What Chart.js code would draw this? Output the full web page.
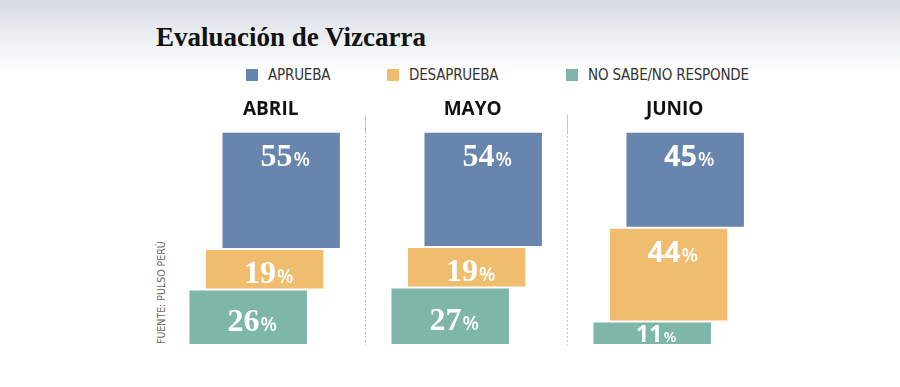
<!DOCTYPE html>
<html lang="es">
<head>
  <meta charset="utf-8">
  <title>Evaluación de Vizcarra</title>
  <script src="https://cdn.jsdelivr.net/npm/chart.js@4/dist/chart.umd.min.js"></script>
  <style>
  html, body {
    margin: 0;
    padding: 0;
  }
  body {
    width: 900px;
    height: 387px;
    position: relative;
    overflow: hidden;
    background: linear-gradient(to bottom, #d6dbe3 0px, #eef0f3 40px, #ffffff 74px);
  }
  #title {
    position: absolute;
    left: 156px;
    top: 22px;
    font: bold 27px "Liberation Serif", serif;
    color: #111;
    white-space: nowrap;
  }
  .key {
    position: absolute;
    top: 65px;
    font: 15px "Liberation Sans Narrow", "DejaVu Sans Condensed", sans-serif;
    letter-spacing: -0.2px;
    color: #333;
    line-height: 20px;
    white-space: nowrap;
  }
  .key i {
    display: inline-block;
    width: 12px;
    height: 12px;
    margin-right: 10px;
    vertical-align: -1px;
  }
  #source {
    position: absolute;
    left: 155px;
    top: 344px;
    transform: rotate(-90deg);
    transform-origin: 0 0;
    font: 10.5px "Liberation Sans Narrow", "DejaVu Sans Condensed", sans-serif;
    line-height: 13px;
    color: #666;
    white-space: nowrap;
  }
  canvas {
    position: absolute;
    left: 0;
    top: 0;
  }
  </style>
</head>

<body>
  <div id="title">Evaluación de Vizcarra</div>
  <div class="key" style="left:246px"><i style="background:#6886ad"></i>APRUEBA</div>
  <div class="key" style="left:387px"><i style="background:#f0bd6e"></i>DESAPRUEBA</div>
  <div class="key" style="left:566px"><i style="background:#7fb6aa"></i>NO SABE/NO RESPONDE</div>
  <div id="source">FUENTE: PULSO PERÚ</div>
  <canvas id="chart" width="900" height="387"></canvas>
  <script>
    // values (percent)
    var months = ['ABRIL', 'MAYO', 'JUNIO'];
    var aprueba = [55, 54, 45];
    var desaprueba = [19, 19, 44];
    var noSabe = [26, 27, 11];

    var colAprueba = '#6886ad';
    var colDesaprueba = '#f0bd6e';
    var colNoSabe = '#7fb6aa';

    // the boxes sit on top of each other, so each one floats on the sum below it
    var noSabeRange = noSabe.map(function (v) { return [0, v]; });
    var desapruebaRange = noSabe.map(function (v, i) { return [v, v + desaprueba[i]]; });
    var apruebaRange = noSabe.map(function (v, i) {
      var lo = v + desaprueba[i];
      return [lo, lo + aprueba[i]];
    });

    // number fonts differ a bit between panels in the original
    var numberFamily = ['"Liberation Serif"', '"Liberation Serif"', '"Open Sans"'];
    var numberSize = [32, 32, 29];

    var barLabels = {
      id: 'barLabels',
      afterDatasetsDraw: function (chart) {
        var ctx = chart.ctx;
        chart.data.datasets.forEach(function (ds, di) {
          chart.getDatasetMeta(di).data.forEach(function (bar, i) {
            var p = bar.getProps(['x', 'y', 'base'], true);
            var top = Math.min(p.y, p.base);
            var bottom = Math.max(p.y, p.base);
            var h = bottom - top;
            var k = h < 30 ? 0.78 : 1;
            var cy;
            if (h > 80) cy = top + 24;
            else if (h < 30) cy = (top + bottom) / 2 + 1;
            else cy = (top + bottom) / 2 + 3;
            var base = cy + 10.5 * k;
            var num = String(ds.values[i]);
            var fNum = 'bold ' + Math.round(numberSize[i] * k) + 'px ' + numberFamily[i];
            var fPct = '600 ' + Math.round(19 * k) + 'px "Open Sans"';

            ctx.save();
            ctx.fillStyle = '#ffffff';
            ctx.textBaseline = 'alphabetic';
            ctx.textAlign = 'left';
            ctx.font = fNum;
            var wNum = ctx.measureText(num).width;
            ctx.font = fPct;
            var wPct = ctx.measureText('%').width;
            var x0 = p.x + 4 - (wNum + 1 + wPct) / 2;
            ctx.font = fNum;
            ctx.fillText(num, x0, base);
            ctx.font = fPct;
            ctx.fillText('%', x0 + wNum + 1, base);
            ctx.restore();
          });
        });
      }
    };

    var barStyle = {
      borderWidth: 1,
      borderColor: '#ffffff',
      borderSkipped: false,
      categoryPercentage: 0.245,
      barPercentage: 7.24
    };

    var config = {
      type: 'bar',
      data: {
        labels: months,
        datasets: [
          Object.assign({ label: 'NO SABE/NO RESPONDE', data: noSabeRange, values: noSabe, backgroundColor: colNoSabe }, barStyle),
          Object.assign({ label: 'DESAPRUEBA', data: desapruebaRange, values: desaprueba, backgroundColor: colDesaprueba }, barStyle),
          Object.assign({ label: 'APRUEBA', data: apruebaRange, values: aprueba, backgroundColor: colAprueba }, barStyle)
        ]
      },
      options: {
        responsive: false,
        animation: false,
        devicePixelRatio: 1,
        layout: {
          padding: { left: 163.7, right: 130.3, top: 85.7, bottom: 42 }
        },
        plugins: {
          legend: { display: false },
          tooltip: { enabled: false }
        },
        scales: {
          x: {
            type: 'category',
            position: 'top',
            offset: true,
            grid: {
              offset: true,
              drawTicks: true,
              tickLength: 17,
              lineWidth: 1,
              color: function (c) {
                return (c.index === 1 || c.index === 2) ? '#c4c4c4' : 'rgba(0,0,0,0)';
              }
            },
            border: { display: false, dash: [2, 2] },
            ticks: {
              padding: 5,
              crossAlign: 'center',
              labelOffset: 6,
              color: '#111',
              font: { family: 'Open Sans', weight: 'bold', size: 19, lineHeight: 1 }
            }
          },
          y: {
            display: false,
            min: 0,
            max: 100
          }
        }
      },
      plugins: [barLabels]
    };

    var ctx = document.getElementById('chart').getContext('2d');
    window.myChart = new Chart(ctx, config);
  </script>
</body>
</html>
